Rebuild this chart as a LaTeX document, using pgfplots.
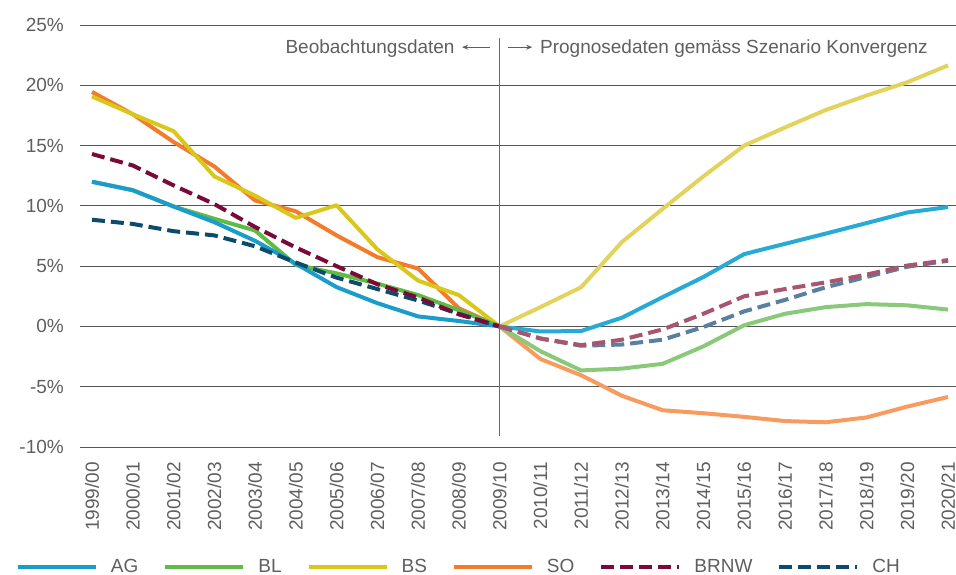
\documentclass[border=0pt]{standalone}
\usepackage{fontspec}
\setmainfont{Liberation Sans}
\usepackage{pgfplots}
\pgfplotsset{compat=1.18}
\usetikzlibrary{arrows.meta}
\definecolor{agc}{HTML}{1B9DCC}
\definecolor{agr}{HTML}{27AAD6}
\definecolor{blc}{HTML}{5EBB46}
\definecolor{blr}{HTML}{8BC97A}
\definecolor{bsc}{HTML}{D9C81B}
\definecolor{bsr}{HTML}{E3D35C}
\definecolor{soc}{HTML}{F47B2A}
\definecolor{sor}{HTML}{F89B5E}
\definecolor{brc}{HTML}{7A0A3A}
\definecolor{brr}{HTML}{A8566E}
\definecolor{chc}{HTML}{0D4A6B}
\definecolor{chr}{HTML}{5A7FA0}
\definecolor{gridc}{HTML}{555555}
\definecolor{labc}{HTML}{5F5F5F}
\definecolor{vlinec}{HTML}{6A6A6A}
\begin{document}
\begin{tikzpicture}[font=\fontsize{19bp}{22bp}\selectfont]
\path[use as bounding box] (-80bp,-128bp) rectangle (876bp,447bp);
\begin{axis}[
  scale only axis, width=876bp, height=422bp,
  xmin=-0.294, xmax=21.196, ymin=-10, ymax=25,
  xtick={0,...,21},
  xticklabels={1999/00,2000/01,2001/02,2002/03,2003/04,2004/05,2005/06,2006/07,2007/08,2008/09,2009/10,2010/11,2011/12,2012/13,2013/14,2014/15,2015/16,2016/17,2017/18,2018/19,2019/20,2020/21},
  ytick={-10,-5,0,5,10,15,20,25},
  yticklabels={-10\%,-5\%,0\%,5\%,10\%,15\%,20\%,25\%},
  ymajorgrids, grid style={line width=0.9bp, color=gridc},
  axis line style={draw=none}, major tick style={draw=none}, major tick length=0pt,
  xticklabel style={rotate=90, anchor=east, inner sep=0pt, text=labc},
  yticklabel style={anchor=east, inner sep=0pt, text=labc},
  xticklabel shift=15bp, yticklabel shift=16bp,
  every axis plot/.append style={line width=4bp, line join=round},
  legend columns=-1,
  legend image code/.code={\draw[#1] (0bp,0bp) -- (78bp,0bp);},
  legend style={draw=none, fill=none, inner sep=0pt, outer sep=0pt,
    at={(-0.0731,-0.2844)}, anchor=west,
    nodes={inner sep=0pt, text=labc},
    /tikz/every odd column/.append style={column sep=13bp},
    /tikz/every even column/.append style={column sep=25bp}},
]
% observed data (1999/00 - 2009/10)
\addplot[forget plot, soc] coordinates {(0,19.45) (1,17.6) (2,15.3) (3,13.27) (4,10.45) (5,9.55) (6,7.55) (7,5.75) (8,4.8) (9,1.5) (10,0)};
\addplot[forget plot, bsc] coordinates {(0,19.07) (1,17.6) (2,16.2) (3,12.45) (4,10.85) (5,9.0) (6,10.05) (7,6.4) (8,3.8) (9,2.6) (10,0)};
\addplot[forget plot, blc] coordinates {(0,12.0) (1,11.3) (2,9.95) (3,8.93) (4,7.96) (5,5.1) (6,4.4) (7,3.55) (8,2.6) (9,1.35) (10,0)};
\addplot[forget plot, agc] coordinates {(0,12.0) (1,11.3) (2,9.95) (3,8.65) (4,7.1) (5,5.2) (6,3.26) (7,1.93) (8,0.83) (9,0.45) (10,0)};
\addplot[forget plot, chc, dash pattern=on 13bp off 6bp] coordinates {(0,8.85) (1,8.5) (2,7.9) (3,7.55) (4,6.65) (5,5.3) (6,4.05) (7,3.1) (8,2.15) (9,1.05) (10,0)};
\addplot[forget plot, brc, dash pattern=on 13bp off 6bp] coordinates {(0,14.3) (1,13.35) (2,11.7) (3,10.15) (4,8.25) (5,6.55) (6,5.0) (7,3.5) (8,2.4) (9,1.0) (10,0)};
% forecast (2009/10 - 2020/21)
\addplot[forget plot, sor] coordinates {(10,0) (11,-2.7) (12,-4.05) (13,-5.75) (14,-6.95) (15,-7.2) (16,-7.5) (17,-7.85) (18,-7.95) (19,-7.55) (20,-6.65) (21,-5.85)};
\addplot[forget plot, bsr] coordinates {(10,0) (11,1.6) (12,3.25) (13,7.0) (14,9.75) (15,12.45) (16,15.0) (17,16.5) (18,17.95) (19,19.15) (20,20.25) (21,21.65)};
\addplot[forget plot, blr] coordinates {(10,0) (11,-2.05) (12,-3.65) (13,-3.5) (14,-3.1) (15,-1.65) (16,0.1) (17,1.05) (18,1.6) (19,1.85) (20,1.75) (21,1.4)};
\addplot[forget plot, agr] coordinates {(10,0) (11,-0.42) (12,-0.38) (13,0.72) (14,2.43) (15,4.1) (16,6.0) (17,6.85) (18,7.7) (19,8.57) (20,9.45) (21,9.9)};
\addplot[forget plot, chr, dash pattern=on 13bp off 6bp] coordinates {(10,0) (11,-1.0) (12,-1.6) (13,-1.5) (14,-1.1) (15,-0.05) (16,1.25) (17,2.2) (18,3.25) (19,4.1) (20,4.95) (21,5.45)};
\addplot[forget plot, brr, dash pattern=on 13bp off 6bp] coordinates {(10,0) (11,-1.0) (12,-1.55) (13,-1.1) (14,-0.25) (15,1.05) (16,2.5) (17,3.1) (18,3.65) (19,4.3) (20,5.05) (21,5.5)};
% divider
\addplot[forget plot, vlinec, line width=1.3bp] coordinates {(10,-9.05) (10,23.9)};
\draw[labc, line width=1bp, -{Stealth[length=6bp,width=5bp]}] (axis cs:9.76,23.16) -- (axis cs:9.08,23.16);
\draw[labc, line width=1bp, -{Stealth[length=6bp,width=5bp]}] (axis cs:10.2,23.16) -- (axis cs:10.8,23.16);
\node[anchor=base east, inner sep=0pt, text=labc] at (axis cs:8.9,22.64) {Beobachtungsdaten};
\node[anchor=base west, inner sep=0pt, text=labc] at (axis cs:10.99,22.64) {Prognosedaten gemäss Szenario Konvergenz};
% legend
\addlegendimage{agc, line width=4bp}\addlegendentry{AG}
\addlegendimage{blc, line width=4bp}\addlegendentry{BL}
\addlegendimage{bsc, line width=4bp}\addlegendentry{BS}
\addlegendimage{soc, line width=4bp}\addlegendentry{SO}
\addlegendimage{brc, line width=4bp, dash pattern=on 13bp off 6bp}\addlegendentry{BRNW}
\addlegendimage{chc, line width=4bp, dash pattern=on 13bp off 6bp}\addlegendentry{CH}
\end{axis}
\end{tikzpicture}
\end{document}
